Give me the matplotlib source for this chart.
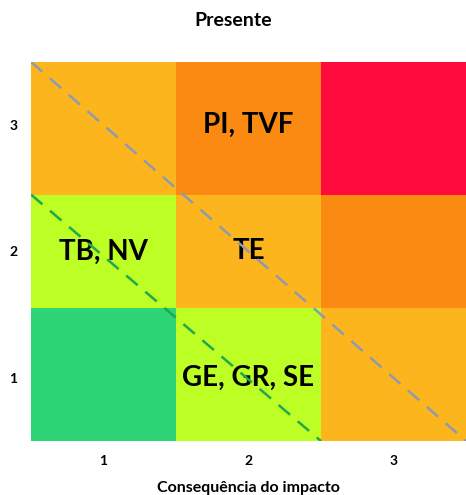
import matplotlib
matplotlib.use("Agg")
import matplotlib.pyplot as plt
from matplotlib.colors import ListedColormap, BoundaryNorm
import numpy as np

plt.rcParams['font.family'] = ['Lato', 'DejaVu Sans']

# Data
consequence = [1, 2, 3]
probability = [1, 2, 3]
# cell edges as drawn in the reference (rows are not perfectly uniform)
x_edges = [0.5, 1.5, 2.5, 3.5]
y_edges = [0.5, 1.55, 2.45, 3.5]
# risk level per cell, rows = probability 1..3, cols = consequence 1..3
risk_level = [
    [1, 2, 3],
    [2, 3, 4],
    [3, 4, 5],
]
level_colors = ['#2ED576', '#BDFE24', '#FDB51E', '#FB8A12', '#FE0A3C']
cell_labels = {
    (2, 3): 'PI, TVF',
    (1, 2): 'TB, NV',
    (2, 2): 'TE',
    (2, 1): 'GE, GR, SE',
}
title = 'Presente'
xlabel = 'Consequência do impacto'

fig = plt.figure(figsize=(4.66, 4.95), dpi=100)
ax = fig.add_axes([0.0665, 0.109, 0.9335, 0.766])

cmap = ListedColormap(level_colors)
norm = BoundaryNorm(np.arange(0.5, 6.5, 1), cmap.N)
ax.pcolormesh(x_edges, y_edges, np.array(risk_level), cmap=cmap, norm=norm)

for (cx, cy), txt in cell_labels.items():
    ax.text(cx, cy, txt, ha='center', va='center', fontsize=20,
            fontweight='bold', color='black', zorder=3)

# dashed diagonals
ax.plot([x_edges[0], x_edges[3]], [y_edges[3], y_edges[0]], ls=(0, (6, 4)),
        color='#8E9AAF', lw=1.8, zorder=4)
ax.plot([x_edges[0], x_edges[2]], [y_edges[2], y_edges[0]], ls=(0, (6, 4)),
        color='#1FA84F', lw=1.8, zorder=4)

ax.set_xlim(x_edges[0], x_edges[-1])
ax.set_ylim(y_edges[0], y_edges[-1])
ax.set_xticks(consequence)
ax.set_yticks(probability)
ax.set_xticklabels([str(v) for v in consequence], fontsize=10, fontweight='bold')
ax.set_yticklabels([str(v) for v in probability], fontsize=10, fontweight='bold')
ax.tick_params(axis='x', length=0, pad=10)
ax.tick_params(axis='y', length=0, pad=10)
for s in ax.spines.values():
    s.set_visible(False)
ax.set_xlabel(xlabel, fontsize=11.5, fontweight='bold', labelpad=10)
fig.text(0.5, 0.958, title, ha='center', va='center', fontsize=14, fontweight='bold')

fig.savefig('out.png', dpi=100)
